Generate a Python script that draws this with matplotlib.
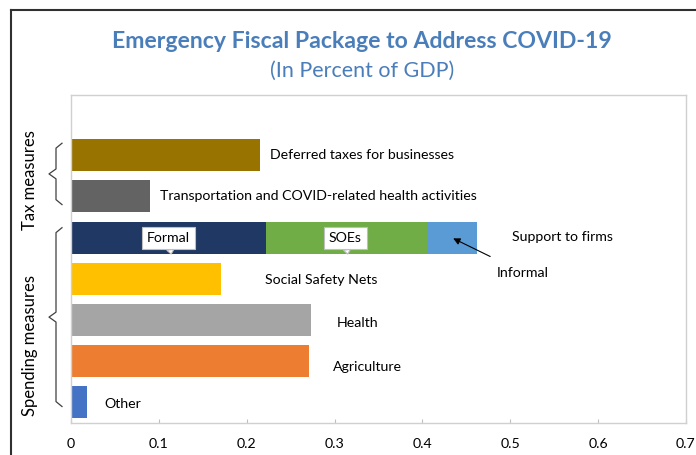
import matplotlib
matplotlib.use('Agg')
import matplotlib.pyplot as plt
from matplotlib.lines import Line2D
import matplotlib.transforms as mtransforms

plt.rcParams['font.family'] = ['Lato', 'DejaVu Sans']

# Emergency fiscal package, percent of GDP (bottom to top)
items = ['Other', 'Agriculture', 'Health', 'Social Safety Nets',
         'Support to firms', 'Transportation and COVID-related health activities',
         'Deferred taxes for businesses']
values = [0.018, 0.271, 0.273, 0.171, None, 0.090, 0.215]
colors = ['#4472C4', '#ED7D31', '#A5A5A5', '#FFC000', None, '#636363', '#997300']

# Support to firms split into stacked parts
firm_parts = ['Formal', 'SOEs', 'Informal']
firm_values = [0.222, 0.183, 0.057]
firm_colors = ['#203864', '#70AD47', '#5B9BD5']

xticks = [0, 0.1, 0.2, 0.3, 0.4, 0.5, 0.6, 0.7]
xtick_labels = ['0', '0.1', '0.2', '0.3', '0.4', '0.5', '0.6', '0.7']

# label placement: gap after bar end, vertical nudge (negative = down)
label_gap = [0.02, 0.027, 0.03, 0.05, 0.04, 0.011, 0.011]
label_dy = [-0.05, -0.15, -0.08, -0.02, 0.02, 0.0, 0.0]

TITLE_BLUE = '#4A7EBB'
FS = 10.2

fig = plt.figure(figsize=(6.96, 4.55), dpi=100)
ax = fig.add_axes([71 / 696, 1 - 423 / 455, 615 / 696, 328 / 455])

ypos = list(range(len(items)))
bar_h = 0.78
for y, name, v, c in zip(ypos, items, values, colors):
    if v is None:
        left = 0
        for part, pv, pc in zip(firm_parts, firm_values, firm_colors):
            ax.barh(y, pv, left=left, height=bar_h, color=pc)
            left += pv
        end = left
    else:
        ax.barh(y, v, height=bar_h, color=c)
        end = v
    ax.text(end + label_gap[y], y + label_dy[y], name, fontsize=FS,
            va='center', ha='left', color='#000000')

ax.set_xlim(0, 0.7)
ax.set_ylim(-0.5, 7.46)
ax.set_xticks(xticks)
ax.set_xticklabels(xtick_labels, fontsize=FS)
ax.set_yticks([])
ax.tick_params(axis='x', direction='in', length=3, color='#BFBFBF', pad=11)
for s in ax.spines.values():
    s.set_color('#D0D0D0')
    s.set_linewidth(1.0)

# callouts on the stacked firm bar
firm_y = items.index('Support to firms')
callout_box = dict(boxstyle='square,pad=0.35', fc='white', ec='#BFBFBF', lw=0.8)
for label, xc in [('Formal', 0.111), ('SOEs', 0.312)]:
    ax.annotate(label, xy=(xc + 0.003, firm_y - 0.4), xytext=(xc, firm_y - 0.02),
                fontsize=FS, ha='center', va='center', bbox=callout_box,
                arrowprops=dict(arrowstyle='wedge,tail_width=0.5', fc='white',
                                ec='#BFBFBF', lw=0.8, shrinkA=0, shrinkB=0))
ax.annotate('Informal', xy=(0.435, firm_y - 0.02), xytext=(0.485, firm_y - 0.85),
            fontsize=FS, ha='left', va='center',
            arrowprops=dict(arrowstyle='-|>', color='black', lw=0.8,
                            shrinkA=12, shrinkB=0, mutation_scale=10))


def brace(y0, y1, x_px=56, tip_px=7, tail_px=6):
    """Curly brace left of the axes, spanning data y0..y1."""
    trans = mtransforms.blended_transform_factory(
        fig.transFigure, ax.transData)
    x = x_px / 696
    xt = (x_px - tip_px) / 696
    xe = (x_px + tail_px) / 696
    ym = (y0 + y1) / 2
    d = 0.12
    xs = [xe, x, x, xt, x, x, xe]
    ys = [y0, y0 + d, ym - d, ym, ym + d, y1 - d, y1]
    ax.add_line(Line2D(xs, ys, transform=trans, color='#404040', lw=0.9,
                       clip_on=False))


brace(4.8, 6.29)
brace(-0.1, 4.24)

fig.text(30 / 696, 1 - 180 / 455, 'Tax measures', rotation=90, fontsize=12,
         ha='center', va='center')
fig.text(30 / 696, 1 - 346 / 455, 'Spending measures', rotation=90, fontsize=12,
         ha='center', va='center')

fig.text(362 / 696, 1 - 42 / 455, 'Emergency Fiscal Package to Address COVID-19',
         fontsize=16.6, fontweight='bold', color=TITLE_BLUE, ha='center', va='center')
fig.text(362 / 696, 1 - 71 / 455, '(In Percent of GDP)', fontsize=15.5,
         color=TITLE_BLUE, ha='center', va='center')

# outer frame on the left and top edges
fig.add_artist(Line2D([11 / 696, 11 / 696], [0, 1 - 10 / 455],
                      transform=fig.transFigure, color='#303030', lw=1.5))
fig.add_artist(Line2D([11 / 696, 1], [1 - 10 / 455, 1 - 10 / 455],
                      transform=fig.transFigure, color='#303030', lw=1.5))

fig.savefig('out.png', dpi=100, facecolor='white')
